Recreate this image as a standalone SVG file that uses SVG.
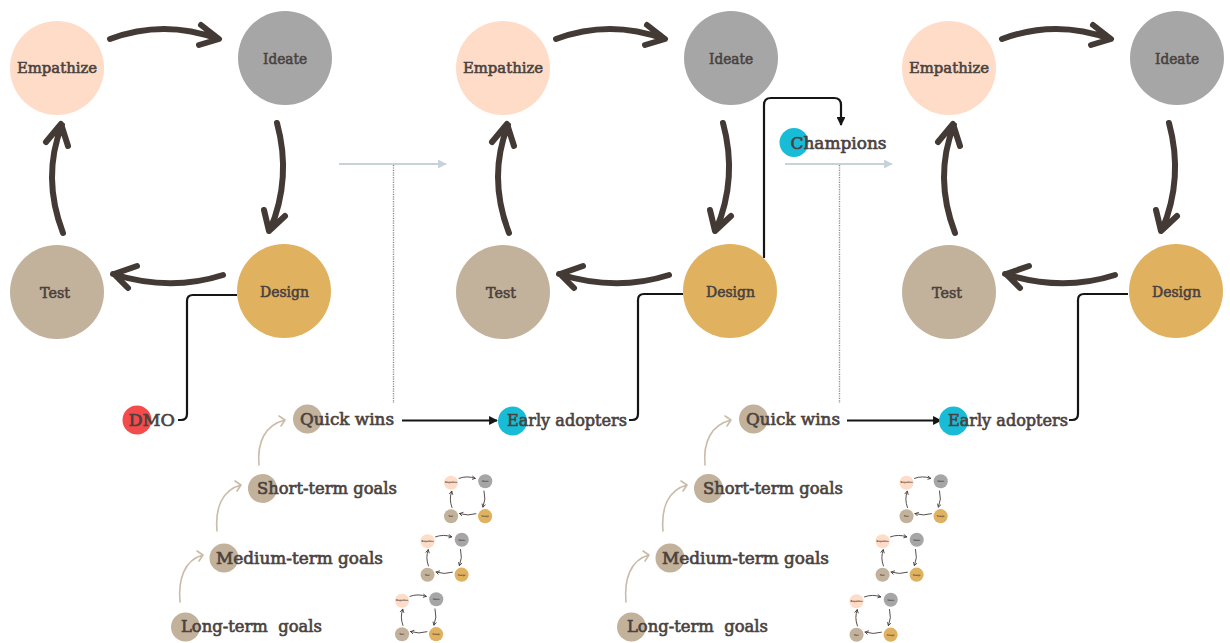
<svg xmlns="http://www.w3.org/2000/svg" xmlns:xlink="http://www.w3.org/1999/xlink" width="1230" height="643" viewBox="0 0 1230 643">
<style>
.lbl{font-family:"DejaVu Serif","Liberation Serif",serif;font-weight:normal;fill:#4a423e;stroke:#4a423e;stroke-width:0.6px;text-anchor:middle;font-size:15px}
.glbl{font-family:"DejaVu Serif","Liberation Serif",serif;font-weight:normal;fill:#4a423e;stroke:#4a423e;stroke-width:0.65px;font-size:17px}
.emp{fill:#fedcc8}.ide{fill:#a6a6a6}.des{fill:#e0b15e}.tst{fill:#c2b19b}
.blue{fill:#19bcd7}.red{fill:#f44b4c}.tanc{fill:#c2b19b}
.arr{fill:none;stroke:#433a35;stroke-width:6;stroke-linecap:round;stroke-linejoin:round}
.con{fill:none;stroke:#151515;stroke-width:2.2;stroke-linejoin:round}
.tan{fill:none;stroke:#c9bba7;stroke-width:1.6;stroke-linecap:round;stroke-linejoin:round}
.flow{stroke:#c8d3d9;stroke-width:2.2;fill:none}
.dot{stroke:#8a8a8a;stroke-width:1.4;stroke-dasharray:1.2 1.2;fill:none}
</style>
<defs>
<marker id="ah" viewBox="0 0 10 10" refX="9" refY="5" markerWidth="4" markerHeight="4" orient="auto" markerUnits="strokeWidth">
<path d="M0,0 L10,5 L0,10 Z" fill="#151515"/>
</marker>
<marker id="ahg" viewBox="0 0 10 10" refX="9" refY="5" markerWidth="4" markerHeight="4" orient="auto" markerUnits="strokeWidth">
<path d="M0,0 L10,5 L0,10 Z" fill="#c8d3d9"/>
</marker>
<g id="cyc-arrows">
<path class="arr" d="M110,39 Q164,19 218,39 M201,25 L219,39 L199,45"/>
<path class="arr" d="M277,123 Q292,178 270,230 M264,210 L269,231 L285,216"/>
<path class="arr" d="M223,275 Q170,292 113,274 M137,266 L114,274 L128,288"/>
<path class="arr" d="M63,233 Q41.5,177 62,125 M46,142 L61,124 L68,146"/>
</g>
<g id="cyc-nodes">
<circle class="emp" cx="57" cy="68" r="47"/><text class="lbl" x="57" y="73" textLength="80" lengthAdjust="spacingAndGlyphs">Empathize</text>
<circle class="ide" cx="285" cy="58" r="47"/><text class="lbl" x="285" y="64" textLength="44" lengthAdjust="spacingAndGlyphs">Ideate</text>
<circle class="des" cx="284" cy="291" r="47"/><text class="lbl" x="284.5" y="297" textLength="49" lengthAdjust="spacingAndGlyphs">Design</text>
<circle class="tst" cx="57" cy="292" r="47"/><text class="lbl" x="55" y="298" textLength="30" lengthAdjust="spacingAndGlyphs">Test</text>
</g>
<g id="mini"><use href="#cyc-nodes"/><use href="#cyc-arrows"/></g>
</defs>

<g id="connectors">
<use href="#cyc-arrows"/>
<use href="#cyc-arrows" transform="translate(446,0)"/>
<use href="#cyc-arrows" transform="translate(892,0)"/>
<path class="con" d="M237,295 H193 Q187,295 187,301 V414 Q187,420 181,420 H178"/>
<path class="con" d="M683,294 H644 Q638,294 638,300 V414 Q638,420 632,420 H629"/>
<path class="con" d="M1128,294 H1084 Q1078,294 1078,300 V414 Q1078,420 1072,420 H1069"/>
<path class="con" d="M764,258 V105 Q764,98 771,98 H834 Q841,98 841,105 V125" marker-end="url(#ah)"/>
<path class="con" d="M402,420.5 H497" marker-end="url(#ah)"/>
<path class="con" d="M847,420.5 H941" marker-end="url(#ah)"/>
<path class="flow" d="M339,164 H446" marker-end="url(#ahg)"/>
<path class="flow" d="M785,164 H892" marker-end="url(#ahg)"/>
<path class="dot" d="M393.5,165 V403"/>
<path class="dot" d="M839.5,165 V403"/>
<path class="tan" d="M180,602 C178,580 184,560 203,555 M197,551 L203,555 L199,561"/>
<path class="tan" d="M217,531 C215,508 222,490 241,485 M235,481 L241,485 L237,491"/>
<path class="tan" d="M259,465 C257,442 265,425 285,420 M279,416 L285,420 L281,426"/>
<g transform="translate(446,0)">
<path class="tan" d="M180,602 C178,580 184,560 203,555 M197,551 L203,555 L199,561"/>
<path class="tan" d="M217,531 C215,508 222,490 241,485 M235,481 L241,485 L237,491"/>
<path class="tan" d="M259,465 C257,442 265,425 285,420 M279,416 L285,420 L281,426"/>
</g>
</g>

<g id="empathize-1"><circle class="emp" cx="57" cy="68" r="47"/><text class="lbl" x="57" y="73" textLength="80" lengthAdjust="spacingAndGlyphs">Empathize</text></g>
<g id="ideate-1"><circle class="ide" cx="285" cy="58" r="47"/><text class="lbl" x="285" y="64" textLength="44" lengthAdjust="spacingAndGlyphs">Ideate</text></g>
<g id="design-1"><circle class="des" cx="284" cy="291" r="47"/><text class="lbl" x="284.5" y="297" textLength="49" lengthAdjust="spacingAndGlyphs">Design</text></g>
<g id="test-1"><circle class="tst" cx="57" cy="292" r="47"/><text class="lbl" x="55" y="298" textLength="30" lengthAdjust="spacingAndGlyphs">Test</text></g>
<g id="empathize-2"><circle class="emp" cx="503" cy="68" r="47"/><text class="lbl" x="503" y="73" textLength="80" lengthAdjust="spacingAndGlyphs">Empathize</text></g>
<g id="ideate-2"><circle class="ide" cx="731" cy="58" r="47"/><text class="lbl" x="731" y="64" textLength="44" lengthAdjust="spacingAndGlyphs">Ideate</text></g>
<g id="design-2"><circle class="des" cx="730" cy="291" r="47"/><text class="lbl" x="730.5" y="297" textLength="49" lengthAdjust="spacingAndGlyphs">Design</text></g>
<g id="test-2"><circle class="tst" cx="503" cy="292" r="47"/><text class="lbl" x="501" y="298" textLength="30" lengthAdjust="spacingAndGlyphs">Test</text></g>
<g id="empathize-3"><circle class="emp" cx="949" cy="68" r="47"/><text class="lbl" x="949" y="73" textLength="80" lengthAdjust="spacingAndGlyphs">Empathize</text></g>
<g id="ideate-3"><circle class="ide" cx="1177" cy="58" r="47"/><text class="lbl" x="1177" y="64" textLength="44" lengthAdjust="spacingAndGlyphs">Ideate</text></g>
<g id="design-3"><circle class="des" cx="1176" cy="291" r="47"/><text class="lbl" x="1176.5" y="297" textLength="49" lengthAdjust="spacingAndGlyphs">Design</text></g>
<g id="test-3"><circle class="tst" cx="949" cy="292" r="47"/><text class="lbl" x="947" y="298" textLength="30" lengthAdjust="spacingAndGlyphs">Test</text></g>

<g id="champions"><circle class="blue" cx="794" cy="142.5" r="14.5"/><text class="glbl" x="790.5" y="148.5" textLength="96" lengthAdjust="spacingAndGlyphs">Champions</text></g>
<g id="dmo"><circle class="red" cx="137" cy="420" r="14.5"/><text class="glbl" x="128.5" y="426" textLength="46.5" lengthAdjust="spacingAndGlyphs">DMO</text></g>

<g id="quick-wins-1"><circle class="tanc" cx="307.5" cy="419" r="14.5"/><text class="glbl" x="300" y="425" textLength="94" lengthAdjust="spacingAndGlyphs">Quick wins</text></g>
<g id="early-adopters-1"><circle class="blue" cx="512.5" cy="421" r="14.5"/><text class="glbl" x="507" y="426" textLength="120" lengthAdjust="spacingAndGlyphs">Early adopters</text></g>
<g id="short-term-1"><circle class="tanc" cx="262.5" cy="488.5" r="14.5"/><text class="glbl" x="257" y="494" textLength="140" lengthAdjust="spacingAndGlyphs">Short-term goals</text></g>
<g id="medium-term-1"><circle class="tanc" cx="224" cy="558" r="14.5"/><text class="glbl" x="216" y="563.5" textLength="167" lengthAdjust="spacingAndGlyphs">Medium-term goals</text></g>
<g id="long-term-1"><circle class="tanc" cx="185.5" cy="627" r="14.5"/><text class="glbl" x="181" y="632" textLength="141" lengthAdjust="spacingAndGlyphs" xml:space="preserve">Long-term  goals</text></g>
<g id="quick-wins-2"><circle class="tanc" cx="753.5" cy="419" r="14.5"/><text class="glbl" x="746" y="425" textLength="94" lengthAdjust="spacingAndGlyphs">Quick wins</text></g>
<g id="early-adopters-2"><circle class="blue" cx="953.5" cy="421" r="14.5"/><text class="glbl" x="948" y="426" textLength="120" lengthAdjust="spacingAndGlyphs">Early adopters</text></g>
<g id="short-term-2"><circle class="tanc" cx="708.5" cy="488.5" r="14.5"/><text class="glbl" x="703" y="494" textLength="140" lengthAdjust="spacingAndGlyphs">Short-term goals</text></g>
<g id="medium-term-2"><circle class="tanc" cx="670" cy="558" r="14.5"/><text class="glbl" x="662" y="563.5" textLength="167" lengthAdjust="spacingAndGlyphs">Medium-term goals</text></g>
<g id="long-term-2"><circle class="tanc" cx="631.5" cy="627" r="14.5"/><text class="glbl" x="627" y="632" textLength="141" lengthAdjust="spacingAndGlyphs" xml:space="preserve">Long-term  goals</text></g>

<g id="mini-1a"><use href="#mini" transform="translate(442.5,472.5) scale(0.15)"/></g>
<g id="mini-1b"><use href="#mini" transform="translate(419,531) scale(0.15)"/></g>
<g id="mini-1c"><use href="#mini" transform="translate(393.5,590.5) scale(0.15)"/></g>
<g id="mini-2a"><use href="#mini" transform="translate(898,472.5) scale(0.15)"/></g>
<g id="mini-2b"><use href="#mini" transform="translate(874,531) scale(0.15)"/></g>
<g id="mini-2c"><use href="#mini" transform="translate(848,591) scale(0.15)"/></g>
</svg>
